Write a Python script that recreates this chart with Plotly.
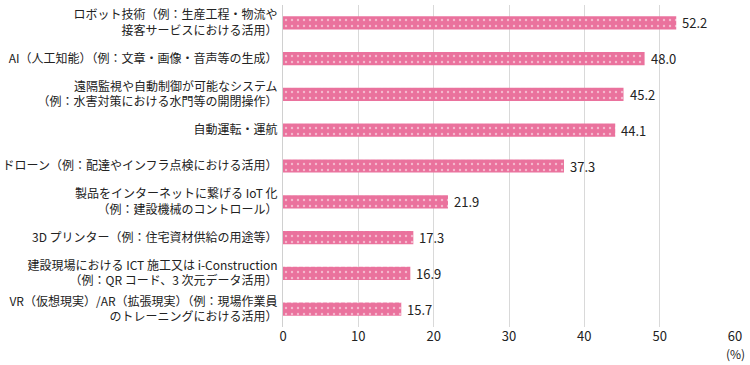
import plotly.graph_objects as go

categories = [
    "ロボット技術（例：生産工程・物流や<br>接客サービスにおける活用）",
    "AI（人工知能）（例：文章・画像・音声等の生成）",
    "遠隔監視や自動制御が可能なシステム<br>（例：水害対策における水門等の開閉操作）",
    "自動運転・運航",
    "ドローン（例：配達やインフラ点検における活用）",
    "製品をインターネットに繋げる IoT 化<br>（例：建設機械のコントロール）",
    "3D プリンター（例：住宅資材供給の用途等）",
    "建設現場における ICT 施工又は i-Construction<br>（例：QR コード、3 次元データ活用）",
    "VR（仮想現実）/AR（拡張現実）（例：現場作業員<br>のトレーニングにおける活用）",
]
values = [52.2, 48.0, 45.2, 44.1, 37.3, 21.9, 17.3, 16.9, 15.7]
value_labels = ["52.2", "48.0", "45.2", "44.1", "37.3", "21.9", "17.3", "16.9", "15.7"]
x_ticks = [0, 10, 20, 30, 40, 50, 60]

FONT = "Noto Sans CJK JP"
PINK = "#EA729D"

fig = go.Figure(go.Bar(
    x=values,
    y=categories,
    orientation="h",
    width=0.37,
    marker=dict(
        color=PINK,
        line=dict(width=0),
        pattern=dict(shape=".", bgcolor=PINK, fgcolor="white", size=6, solidity=0.12),
    ),
    hoverinfo="x+y",
))

annotations = [
    dict(x=v, y=c, xref="x", yref="y", text=t, showarrow=False,
         xanchor="left", xshift=4, font=dict(size=13, color="#222"))
    for v, c, t in zip(values, categories, value_labels)
]
annotations.append(dict(
    x=60, y=0, xref="x", yref="paper", text="(%)", showarrow=False,
    yanchor="top", yshift=-16, font=dict(size=12, color="#222"),
))

fig.update_layout(
    width=750, height=365,
    margin=dict(l=283, r=15, t=5, b=38),
    plot_bgcolor="white", paper_bgcolor="white",
    font=dict(family=FONT, color="#222"),
    showlegend=False,
    xaxis=dict(
        range=[0, 60], tickvals=x_ticks, showgrid=True, gridcolor="#d9d9d9", gridwidth=1,
        zeroline=False, showline=False, tickfont=dict(size=13, color="#222"),
        ticks="", fixedrange=True, automargin=False,
    ),
    yaxis=dict(
        autorange="reversed", showgrid=False, showline=True, linecolor="#d0d0d0", linewidth=1,
        ticks="outside", ticklen=2, tickcolor="rgba(0,0,0,0)",
        tickfont=dict(size=12, color="#222"), automargin=False, fixedrange=True,
    ),
    annotations=annotations,
)

fig.write_html("out.html", config={"displayModeBar": False},
               post_script="document.body.style.margin='0';")
